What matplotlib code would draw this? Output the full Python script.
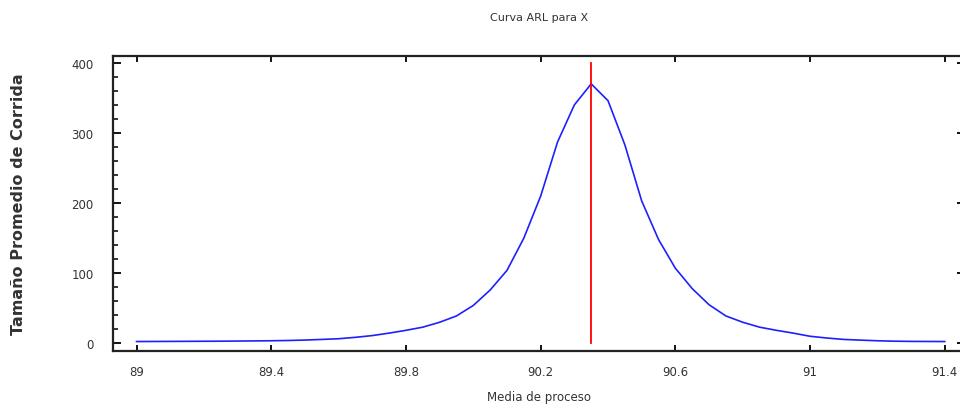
import matplotlib
matplotlib.use("Agg")
import matplotlib.pyplot as plt
import numpy as np
from matplotlib.ticker import MultipleLocator

# curva ARL: media del proceso vs. longitud promedio de corrida
media = [89.00, 89.05, 89.10, 89.15, 89.20, 89.25, 89.30, 89.35, 89.40, 89.45,
         89.50, 89.55, 89.60, 89.65, 89.70, 89.75, 89.80, 89.85, 89.90, 89.95,
         90.00, 90.05, 90.10, 90.15, 90.20, 90.25, 90.30, 90.35, 90.40, 90.45,
         90.50, 90.55, 90.60, 90.65, 90.70, 90.75, 90.80, 90.85, 90.90, 90.95,
         91.00, 91.05, 91.10, 91.15, 91.20, 91.25, 91.30, 91.35, 91.40]
arl = [2.5, 2.6, 2.7, 2.8, 2.9, 3.0, 3.2, 3.4, 3.6, 4.0,
       4.6, 5.5, 6.5, 8.5, 11, 14.5, 18.5, 23, 30, 39,
       54, 76, 104, 150, 210, 287, 340, 370, 346, 283,
       203, 148, 107, 78, 55, 39, 30, 23, 18.5, 14.5,
       10, 7.5, 5.5, 4.5, 3.6, 3.0, 2.7, 2.6, 2.5]

media_objetivo = 90.35
linea_max = 400
xticks = [89, 89.4, 89.8, 90.2, 90.6, 91, 91.4]
xtick_labels = ["89", "89.4", "89.8", "90.2", "90.6", "91", "91.4"]
yticks = [0, 100, 200, 300, 400]

narrow = ["Liberation Sans Narrow", "DejaVu Sans"]

fig = plt.figure(figsize=(9.6, 4.06), dpi=100)
ax = fig.add_axes([0.1177, 0.133, 0.8875, 0.727])

ax.plot(media, arl, color="#1f1fff", lw=1.2)
ax.plot([media_objetivo, media_objetivo], [0, linea_max], color="#ff0000", lw=1.3)

ax.set_xlim(88.93, 91.46)
ax.set_ylim(-11, 410)

ax.set_xticks(xticks)
ax.set_xticklabels(xtick_labels, family=narrow, fontsize=8.5, color="#333333")
ax.set_yticks(yticks)
ax.set_yticklabels([str(v) for v in yticks], family=narrow, fontsize=8.5, color="#333333")
ax.yaxis.set_minor_locator(MultipleLocator(20))

ax.tick_params(axis="x", which="major", direction="in", length=4, width=1.3,
               top=True, pad=10)
ax.tick_params(axis="y", which="major", direction="in", length=6, width=1.3,
               right=True, pad=14)
ax.tick_params(axis="y", which="minor", direction="in", length=3.5, width=1.1,
               right=True)

for s in ax.spines.values():
    s.set_linewidth(1.6)
    s.set_color("#222222")

ax.set_xlabel("Media de proceso", family=narrow, fontsize=8.5, color="#333333", labelpad=9)
ax.set_ylabel("Tamaño Promedio de Corrida", fontsize=11.5, fontweight="bold",
              color="#333333")
ax.yaxis.set_label_coords(-0.102, 0.5)
fig.text(0.562, 0.955, "Curva ARL para X", family=narrow, fontsize=8,
         color="#333333", ha="center", va="center")

fig.savefig("out.png", dpi=100)
